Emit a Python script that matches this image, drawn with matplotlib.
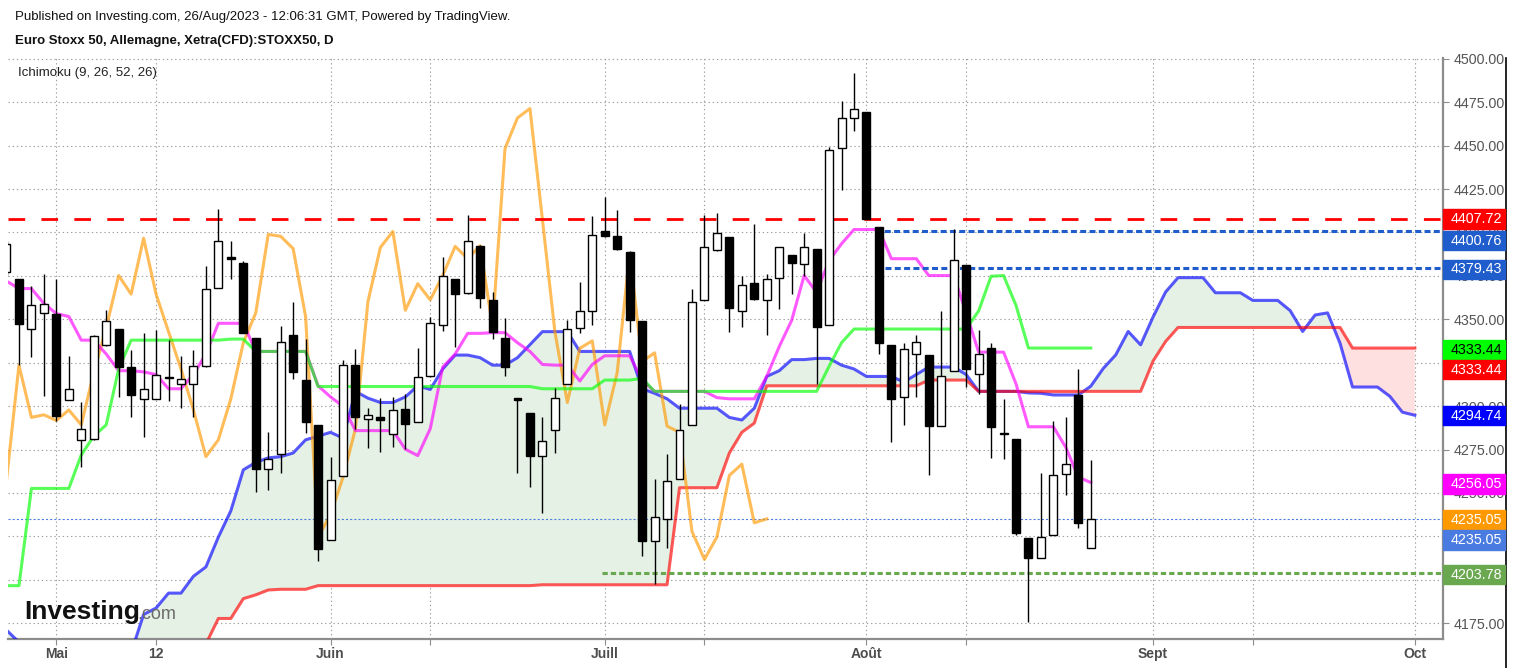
import matplotlib
matplotlib.use("Agg")
import numpy as np
import matplotlib.pyplot as plt
from matplotlib.patches import Rectangle
from matplotlib.lines import Line2D

plt.rcParams['font.family'] = ['Liberation Sans', 'DejaVu Sans']
plt.rcParams['lines.scale_dashes'] = False

# x = trading-day index, 0 = 2 May 2023 ; first candle on screen is index -4
first_bar = -4

opens = [4377.0, 4373.5, 4344.7, 4353.7, 4353.3, 4303.4, 4280.6, 4281.0, 4335.0, 4344.4,
         4322.3, 4304.2, 4304.2, 4316.6, 4312.8, 4312.8, 4322.9, 4368.3, 4385.5, 4382.7,
         4339.3, 4263.8, 4272.4, 4340.8, 4315.0, 4289.2, 4222.9, 4259.5, 4323.6, 4292.8,
         4293.9, 4283.8, 4298.4, 4290.9, 4317.1, 4346.8, 4373.5, 4365.3, 4392.0, 4361.2,
         4339.3, 4304.2, 4296.0, 4271.5, 4286.4, 4312.8, 4345.1, 4354.6, 4400.6, 4397.8,
         4388.6, 4349.0, 4222.5, 4234.9, 4258.0, 4289.2, 4361.0, 4389.8, 4397.2, 4354.6,
         4370.9, 4361.0, 4373.9, 4387.0, 4381.7, 4390.7, 4346.8, 4448.4, 4466.2, 4469.2,
         4403.2, 4335.0, 4305.3, 4330.0, 4329.6, 4288.7, 4320.4, 4381.2, 4318.6, 4333.7,
         4284.4, 4281.0, 4224.0, 4212.4, 4225.7, 4260.8, 4306.4, 4218.2]
highs = [4395.0, 4373.5, 4369.2, 4376.3, 4373.1, 4328.9, 4302.1, 4341.0, 4355.2, 4344.4,
         4332.2, 4341.9, 4344.0, 4338.2, 4328.9, 4332.6, 4380.6, 4413.5, 4395.2, 4383.8,
         4339.3, 4284.9, 4346.2, 4359.7, 4338.6, 4289.2, 4270.9, 4326.8, 4332.8, 4298.8,
         4304.6, 4305.3, 4306.8, 4333.3, 4351.5, 4386.0, 4373.5, 4410.3, 4392.9, 4365.5,
         4350.5, 4304.6, 4296.0, 4293.9, 4310.7, 4349.4, 4371.3, 4409.6, 4420.4, 4412.9,
         4389.2, 4349.0, 4258.0, 4272.6, 4301.0, 4367.7, 4410.3, 4411.1, 4397.2, 4375.2,
         4404.7, 4376.3, 4391.4, 4387.0, 4399.5, 4390.7, 4449.4, 4475.9, 4491.8, 4469.2,
         4403.2, 4335.0, 4336.5, 4341.2, 4329.6, 4354.8, 4402.1, 4381.2, 4344.0, 4336.5,
         4304.2, 4281.0, 4224.0, 4261.6, 4291.7, 4293.9, 4321.4, 4269.2]
lows = [4375.0, 4323.6, 4328.3, 4305.9, 4291.3, 4303.4, 4265.1, 4280.5, 4334.5, 4305.3,
        4293.9, 4282.3, 4304.2, 4303.1, 4298.8, 4293.9, 4322.5, 4368.3, 4373.5, 4341.9,
        4250.4, 4251.5, 4261.6, 4315.4, 4284.4, 4210.6, 4222.9, 4259.5, 4287.0, 4275.8,
        4273.7, 4276.7, 4275.2, 4290.9, 4316.7, 4343.4, 4334.3, 4364.5, 4356.5, 4338.6,
        4317.1, 4261.6, 4253.7, 4238.4, 4273.0, 4312.8, 4341.9, 4346.8, 4397.4, 4389.8,
        4342.9, 4213.9, 4197.7, 4218.2, 4258.0, 4289.2, 4361.0, 4389.2, 4342.9, 4345.7,
        4361.2, 4340.8, 4355.9, 4364.5, 4375.2, 4312.8, 4346.8, 4424.3, 4458.7, 4407.5,
        4330.0, 4279.5, 4289.2, 4305.3, 4260.1, 4288.7, 4320.4, 4311.1, 4306.8, 4270.2,
        4269.4, 4225.7, 4175.6, 4212.4, 4225.7, 4248.9, 4230.0, 4218.2]
closes = [4393.5, 4347.3, 4358.4, 4359.1, 4294.3, 4309.6, 4287.0, 4340.4, 4348.8, 4322.5,
          4306.4, 4309.6, 4317.8, 4316.0, 4315.6, 4322.9, 4367.7, 4395.0, 4384.8, 4341.9,
          4263.8, 4269.8, 4337.1, 4319.7, 4290.9, 4217.7, 4257.3, 4323.6, 4293.5, 4295.0,
          4292.0, 4297.8, 4289.6, 4316.5, 4347.7, 4375.2, 4364.5, 4395.0, 4362.3, 4342.9,
          4322.5, 4303.8, 4271.5, 4280.1, 4304.6, 4344.4, 4354.6, 4398.5, 4397.8, 4390.3,
          4349.8, 4222.5, 4236.2, 4256.9, 4286.4, 4360.2, 4391.4, 4399.9, 4356.3, 4369.8,
          4361.7, 4373.5, 4391.4, 4382.3, 4391.4, 4345.7, 4447.7, 4466.2, 4471.4, 4407.5,
          4336.5, 4304.2, 4332.8, 4337.1, 4288.7, 4317.1, 4384.3, 4321.4, 4330.0, 4288.1,
          4284.0, 4227.2, 4212.4, 4224.6, 4260.1, 4266.6, 4232.8, 4235.05]

# Ichimoku lines
tenkan = [4372.0, 4367.7, 4367.7, 4359.1, 4353.3, 4351.6, 4338.0, 4338.0, 4330.0, 4320.4,
          4320.4, 4319.7, 4318.2, 4310.0, 4310.0, 4318.2, 4330.0, 4347.7, 4347.7, 4347.7,
          4331.5, 4331.5, 4331.5, 4331.5, 4331.5, 4311.7, 4305.3, 4299.9, 4285.9, 4285.9,
          4285.9, 4285.9, 4275.2, 4271.5, 4287.0, 4322.5, 4330.0, 4341.9, 4341.9, 4342.3,
          4342.3, 4336.5, 4331.5, 4324.0, 4323.6, 4323.6, 4314.5, 4324.0, 4329.0, 4329.0,
          4329.0, 4315.0, 4308.5, 4308.5, 4308.5, 4308.5, 4308.5, 4304.9, 4304.2, 4304.2,
          4304.2, 4317.1, 4334.3, 4349.4, 4375.2, 4365.5, 4383.8, 4393.5, 4401.7, 4401.7,
          4401.7, 4384.9, 4384.9, 4384.9, 4375.2, 4375.2, 4375.2, 4353.7, 4331.1, 4331.1,
          4331.1, 4312.8, 4288.1, 4288.1, 4288.1, 4276.2, 4259.0, 4256.05]
kijun = [4196.6, 4196.6, 4252.6, 4252.6, 4252.6, 4252.6, 4271.9, 4282.7, 4289.2, 4321.4,
         4338.0, 4338.0, 4338.0, 4338.0, 4338.0, 4338.0, 4338.0, 4338.0, 4338.6, 4338.6,
         4331.5, 4331.5, 4331.5, 4331.5, 4331.5, 4311.3, 4311.3, 4311.3, 4311.3, 4311.3,
         4311.3, 4311.3, 4311.3, 4311.3, 4311.3, 4311.3, 4311.3, 4311.3, 4311.3, 4311.3,
         4311.3, 4311.3, 4311.3, 4310.0, 4310.0, 4310.0, 4310.0, 4310.0, 4315.0, 4315.0,
         4315.0, 4316.0, 4308.5, 4308.5, 4308.5, 4308.5, 4308.5, 4308.5, 4308.5, 4308.5,
         4308.5, 4308.5, 4308.5, 4308.5, 4308.5, 4308.5, 4322.9, 4336.5, 4344.4, 4344.4,
         4344.4, 4344.4, 4344.4, 4344.4, 4344.4, 4344.4, 4344.4, 4344.4, 4354.8, 4374.8,
         4375.2, 4358.0, 4333.44, 4333.44, 4333.44, 4333.44, 4333.44, 4333.44]
chikou = [4257.3, 4323.6, 4293.5, 4295.0, 4291.7, 4297.8, 4289.2, 4319.3, 4345.1, 4375.2,
          4364.5, 4396.7, 4364.5, 4342.9, 4321.4, 4297.8, 4270.9, 4280.6, 4304.2, 4336.5,
          4353.7, 4398.9, 4397.8, 4390.7, 4351.5, 4224.6, 4237.5, 4259.0, 4287.0, 4360.2,
          4391.4, 4400.6, 4355.2, 4370.5, 4361.2, 4375.2, 4392.0, 4384.9, 4392.4, 4345.7,
          4448.4, 4466.0, 4471.4, 4407.5, 4342.9, 4302.1, 4333.3, 4337.6, 4289.2, 4319.3,
          4388.1, 4325.7, 4330.7, 4288.5, 4284.9, 4227.8, 4211.7, 4224.6, 4260.1, 4266.6,
          4232.8, 4235.05]
span_a = [4171.0, 4164.0, 4150.0, 4150.0, 4150.0, 4150.0, 4150.0, 4150.0, 4150.0, 4150.0,
          4158.0, 4180.0, 4183.7, 4192.3, 4192.3, 4202.0, 4207.4, 4224.6, 4239.7, 4263.3,
          4267.6, 4270.2, 4270.9, 4273.0, 4280.6, 4282.7, 4284.9, 4281.6, 4308.5, 4304.6,
          4302.1, 4302.1, 4305.3, 4311.7, 4309.6, 4321.4, 4329.4, 4329.4, 4327.9, 4323.6,
          4323.6, 4327.9, 4335.4, 4342.9, 4342.9, 4342.9, 4331.5, 4331.5, 4331.5, 4331.5,
          4331.5, 4310.0, 4307.4, 4304.2, 4298.8, 4298.8, 4298.8, 4298.8, 4293.5, 4292.0,
          4298.8, 4317.1, 4320.4, 4326.8, 4326.8, 4327.5, 4327.5, 4323.6, 4321.4, 4317.1,
          4317.1, 4317.1, 4313.9, 4318.2, 4322.5, 4322.5, 4322.5, 4318.2, 4308.5, 4308.5,
          4308.5, 4308.5, 4307.6, 4307.4, 4306.4, 4306.4, 4306.4, 4311.5, 4321.7, 4329.5,
          4343.0, 4335.3, 4351.4, 4365.7, 4374.0, 4374.0, 4374.0, 4365.3, 4365.3, 4365.3,
          4360.9, 4360.9, 4360.9, 4355.0, 4343.0, 4352.5, 4353.7, 4336.2, 4311.0, 4311.0,
          4311.0, 4305.6, 4296.5, 4294.74]
span_b = [4150.0, 4150.0, 4150.0, 4150.0, 4150.0, 4150.0, 4150.0, 4150.0, 4150.0, 4150.0,
          4150.0, 4150.0, 4150.0, 4150.0, 4150.0, 4150.0, 4163.0, 4177.7, 4177.7, 4189.1,
          4191.3, 4194.1, 4194.5, 4194.5, 4194.5, 4196.6, 4196.6, 4196.6, 4196.6, 4196.6,
          4196.6, 4196.6, 4196.6, 4196.6, 4196.6, 4196.6, 4196.6, 4196.6, 4196.6, 4196.6,
          4196.6, 4196.6, 4196.6, 4197.1, 4197.1, 4197.1, 4197.1, 4197.1, 4197.1, 4197.1,
          4197.1, 4197.1, 4197.1, 4197.1, 4253.0, 4253.0, 4253.0, 4253.0, 4273.0, 4284.9,
          4290.2, 4311.7, 4311.7, 4311.7, 4311.7, 4311.7, 4311.7, 4311.7, 4311.7, 4311.7,
          4311.7, 4311.7, 4311.7, 4311.7, 4315.0, 4315.0, 4315.0, 4315.0, 4308.5, 4308.5,
          4308.5, 4308.5, 4308.5, 4308.5, 4308.5, 4308.5, 4308.5, 4308.5, 4308.5, 4308.5,
          4308.5, 4308.5, 4326.0, 4337.2, 4345.3, 4345.3, 4345.3, 4345.3, 4345.3, 4345.3,
          4345.3, 4345.3, 4345.3, 4345.3, 4345.3, 4345.3, 4345.3, 4345.3, 4333.44, 4333.44,
          4333.44, 4333.44, 4333.44, 4333.44]

# horizontal levels drawn on the chart
resistance = 4407.72
blue_levels = [4400.76, 4379.43]
support = 4203.78
last_price = 4235.05

tick_bars = [0, 8, 22, 30, 44, 52, 65, 73, 88, 96, 109]
tick_names = ['Mai', '12', 'Juin', '', 'Juill', '', 'Août', '', 'Sept', '', 'Oct']
price_ticks = np.arange(4175, 4501, 25)

W, H = 1513, 668
fig = plt.figure(figsize=(W / 100, H / 100), dpi=100)
ax_l, ax_r, ax_t, ax_b = 8, 1443, 58, 639.3
ax = fig.add_axes([ax_l / W, 1 - ax_b / H, (ax_r - ax_l) / W, (ax_b - ax_t) / H])
ax.set_xlim(-3.88, 111.26)
ax.set_ylim(4165.7, 4500.5)

# ---- cloud ----
xa = np.arange(first_bar, first_bar + len(span_a))
sa, sb = np.array(span_a), np.array(span_b)
ax.fill_between(xa, sa, sb, where=sa >= sb, interpolate=True, color='#e5f1e5', lw=0, zorder=1)
ax.fill_between(xa, sa, sb, where=sa < sb, interpolate=True, color='#ffe0e0', lw=0, zorder=1)
ax.plot(xa, sa, color='#0000ff', alpha=0.65, lw=2.2, zorder=3)
ax.plot(xa, sb, color='#ff0000', alpha=0.65, lw=2.2, zorder=3.1)

xc = np.arange(first_bar, first_bar + len(chikou))
ax.plot(xc, chikou, color='#ff9900', alpha=0.65, lw=2.2, zorder=3.2)
xt = np.arange(first_bar, first_bar + len(tenkan))
ax.plot(xt, tenkan, color='#ff00ff', alpha=0.65, lw=2.2, zorder=3.3)
ax.plot(xt, kijun, color='#00ff00', alpha=0.65, lw=2.2, zorder=3.4)

# ---- levels ----
x_end = 111.26
ax.plot([-3.88, x_end], [resistance] * 2, color='#ff0000', lw=2.0, dashes=(12, 11.7), zorder=4.5)
ax.plot([65.7, x_end], [blue_levels[0]] * 2, color='#1f5ccc', lw=2.2, dashes=(4.3, 2.4), zorder=4.5)
ax.plot([66.5, x_end], [blue_levels[1]] * 2, color='#1f5ccc', lw=2.2, dashes=(4.3, 2.4), zorder=4.5)
ax.plot([43.8, x_end], [support] * 2, color='#6aa84f', lw=2.2, dashes=(3.8, 2.2), zorder=4.5)
ax.axhline(last_price, color='#4a7be0', lw=0.8, dashes=(1.5, 1.5), zorder=2)

# ---- candles ----
bars = np.arange(first_bar, first_bar + len(closes))
o, c = np.array(opens), np.array(closes)
up = c >= o
body_lo = np.minimum(o, c)
body_h = np.maximum(np.abs(c - o), 0.8)
ax.vlines(bars, lows, highs, color='black', lw=1.0, zorder=6)
ax.bar(bars, body_h, 0.64, bottom=body_lo, color=np.where(up, 'white', 'black'),
       edgecolor='black', linewidth=1.0, zorder=7)

# ---- axes styling ----
for s in ['top', 'left']:
    ax.spines[s].set_visible(False)
for s in ['right', 'bottom']:
    ax.spines[s].set_color('#8c8c8c')
    ax.spines[s].set_linewidth(1.6)
ax.yaxis.tick_right()
ax.set_yticks(price_ticks)
ax.set_yticklabels([f'{p:.2f}' for p in price_ticks])
ax.tick_params(axis='y', length=4, color='#8c8c8c', pad=4, labelcolor='#555555', labelsize=10.3)
ax.set_xticks(tick_bars)
ax.set_xticklabels(tick_names, fontweight='bold')
ax.tick_params(axis='x', length=4, color='#8c8c8c', pad=1.5, labelcolor='#4d4d4d', labelsize=10)
ax.grid(True, color='#a0a0a0', lw=0.8, ls=(0, (1, 2)), zorder=0)
ax.set_axisbelow(True)

# ---- price tags on the right ----
tags = [(resistance, '#ff0000', 'white', 0),
        (blue_levels[0], '#1f5ccc', 'white', 9.5),
        (blue_levels[1], '#1f5ccc', 'white', 1),
        (kijun[-1], '#00ff00', 'black', 2),
        (span_b[-1], '#ff0000', 'white', 21.5),
        (span_a[-1], '#0000ff', 'white', 0.5),
        (tenkan[-1], '#ff00ff', 'white', 1.5),
        (chikou[-1], '#ff9900', 'white', 1),
        (last_price, '#4a7be0', 'white', 21),
        (support, '#6aa84f', 'white', 1.5)]
for price, bg, fg, drop in tags:
    ypix = ax.transData.transform((0, price))[1] - drop
    fig.patches.append(Rectangle((ax_r / W, (ypix - 9.7) / H), 62 / W, 19.4 / H,
                                 transform=fig.transFigure, color=bg, zorder=5))
    fig.text((ax_r + 8) / W, ypix / H, f'{price:.2f}', color=fg, fontsize=10.3,
             va='center', ha='left', zorder=6)

fig.add_artist(Line2D([1505.5 / W] * 2, [0, 1 - ax_t / H], color='black', lw=1.2))

# ---- header texts ----
fig.text(15 / W, 1 - 17 / H, 'Published on Investing.com, 26/Aug/2023 - 12:06:31 GMT, Powered by TradingView.',
         fontsize=9.5, va='center', color='#111111')
fig.text(15 / W, 1 - 41 / H, 'Euro Stoxx 50, Allemagne, Xetra(CFD):STOXX50, D',
         fontsize=9.5, fontweight='bold', va='center', color='#111111')
fig.text(18 / W, 1 - 73 / H, 'Ichimoku (9, 26, 52, 26)', fontsize=9.5, va='center', color='#222222')

# logo
fig.text(24 / W, 1 - 619 / H, 'Investing', fontsize=19, fontweight='bold', va='baseline', color='#111111')
fig.text(137 / W, 1 - 619 / H, '.com', fontsize=13, va='baseline', color='#6b6b6b')

fig.savefig('out.png', dpi=100)
